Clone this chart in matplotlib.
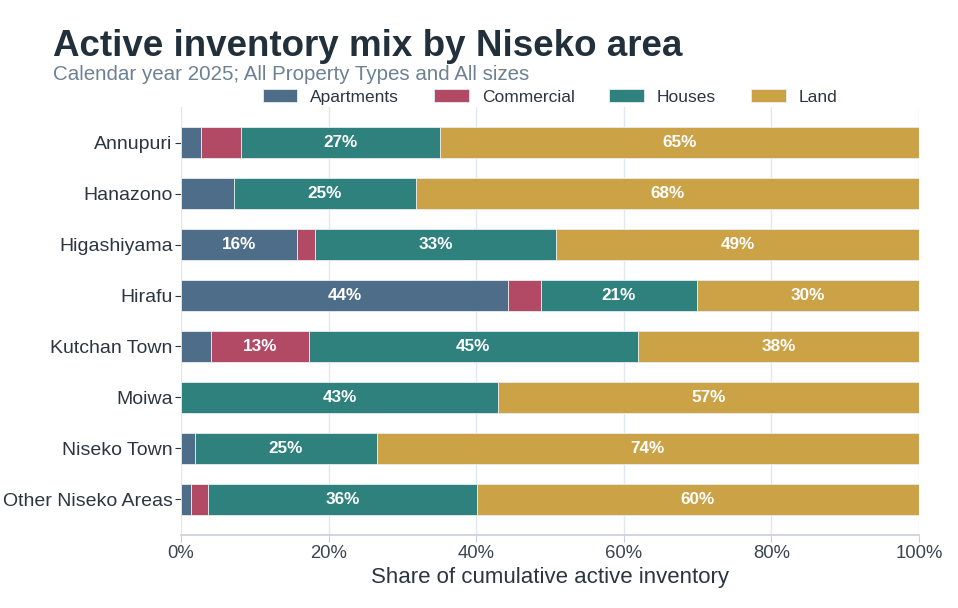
import matplotlib.pyplot as plt
import numpy as np

plt.rcParams['font.family'] = ['Liberation Sans', 'DejaVu Sans']

areas = ["Annupuri", "Hanazono", "Higashiyama", "Hirafu", "Kutchan Town",
         "Moiwa", "Niseko Town", "Other Niseko Areas"]
apartments = [2.7, 7.2, 15.7, 44.3, 4.1, 0.0, 1.9, 1.4]
commercial = [5.4, 0.0, 2.5, 4.5, 13.2, 0.0, 0.0, 2.3]
houses = [27.0, 24.6, 32.6, 21.1, 44.6, 43.0, 24.6, 36.4]
land = [64.9, 68.2, 49.2, 30.1, 38.1, 57.0, 73.5, 59.9]

series = [("Apartments", apartments, "#4e6d89"),
          ("Commercial", commercial, "#b24a66"),
          ("Houses", houses, "#2e817c"),
          ("Land", land, "#cca246")]

fig = plt.figure(figsize=(9.58, 6.08), dpi=100)
ax = fig.add_axes([181/958, 1 - 535/608, (919-181)/958, (535-107)/608])

y = np.arange(len(areas))
left = np.zeros(len(areas))
for name, vals, col in series:
    vals = np.array(vals)
    ax.barh(y, vals, left=left, height=0.62, color=col, label=name,
            edgecolor="#e8ecef", linewidth=0.6, zorder=3)
    for i, v in enumerate(vals):
        if v >= 10:
            ax.text(left[i] + v/2, y[i], f"{v:.0f}%", ha="center", va="center",
                    color="white", fontsize=12.3, fontweight="bold", zorder=4)
    left += vals

ax.set_xlim(0, 100)
ax.set_ylim(len(areas) - 0.3, -0.7)
ax.set_yticks(y)
ax.set_yticklabels(areas, fontsize=14, color="#2b3641")
ax.set_xticks(np.arange(0, 101, 20))
ax.set_xticklabels([f"{t}%" for t in range(0, 101, 20)], fontsize=13.3, color="#3a4550")
ax.set_xlabel("Share of cumulative active inventory", fontsize=16, color="#2b3641", labelpad=3)

ax.grid(axis="x", color="#e1e7ed", linewidth=1, zorder=0)
for s in ["top", "right", "left"]:
    ax.spines[s].set_visible(False)
ax.spines["bottom"].set_color("#c8d0d7")
ax.spines["bottom"].set_linewidth(1.2)
ax.tick_params(axis="x", color="#c8d0d7", length=5, pad=2.5)
ax.tick_params(axis="y", color="#2b3641", length=4, pad=2)

fig.text(53/958, 1 - 46/608, "Active inventory mix by Niseko area", fontsize=26.5,
         fontweight="bold", color="#22303c", va="center")
fig.text(53/958, 1 - 74/608, "Calendar year 2025; All Property Types and All sizes",
         fontsize=14.8, color="#6d8193", va="center")

fig.legend(loc="center", bbox_to_anchor=(550/958, 1 - 97/608), ncol=4, frameon=False,
           fontsize=12.5, handlelength=2.0, handleheight=0.8, handletextpad=0.75,
           columnspacing=2.0, labelcolor="#2b3641")

fig.savefig("out.png", dpi=100)
